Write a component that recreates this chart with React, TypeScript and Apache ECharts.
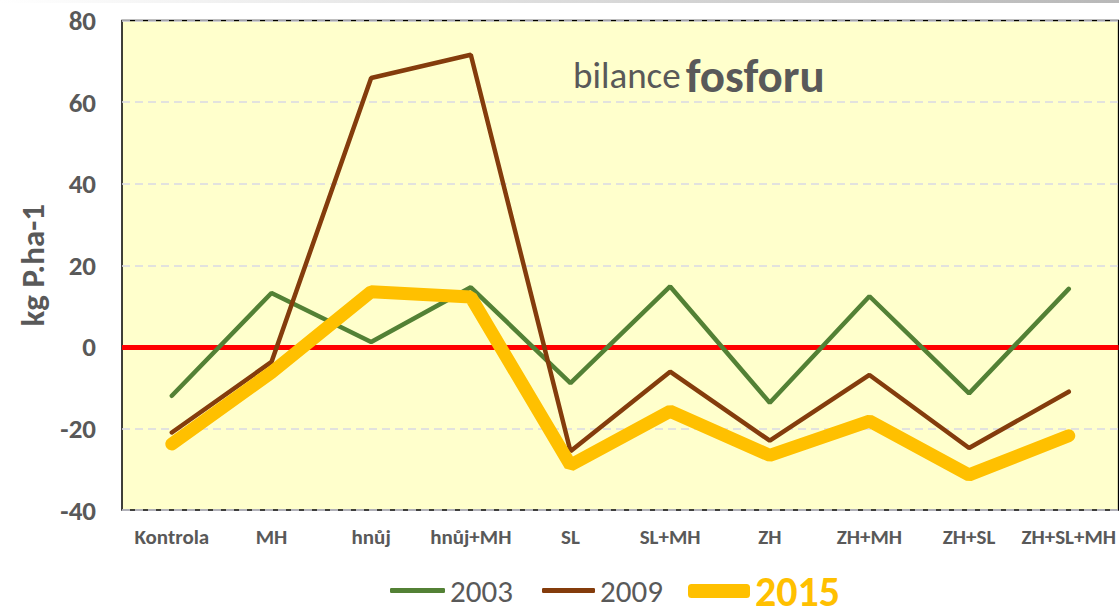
import React, { useEffect, useRef } from "react";
import * as echarts from "echarts";

const categories = ["Kontrola", "MH", "hnůj", "hnůj+MH", "SL", "SL+MH", "ZH", "ZH+MH", "ZH+SL", "ZH+SL+MH"];
const s2003 = [-12, 13.2, 1.2, 14.6, -8.9, 14.8, -13.7, 12.4, -11.4, 14.2];
const s2009 = [-21, -3.7, 65.9, 71.6, -25.6, -6.1, -23, -6.9, -24.8, -11];
const s2015 = [-23.8, -6.3, 13.5, 12.2, -29, -15.8, -26.6, -18.2, -31.4, -21.8];
const yTicks = { min: -40, max: 80, interval: 20 };

const FONT = "Carlito, Lato, 'Noto Sans', sans-serif";
const GRAY = "#595959";

export default function App() {
  const ref = useRef<HTMLDivElement>(null);
  useEffect(() => {
    if (!ref.current) return;
    const chart = echarts.init(ref.current, null, { renderer: "svg" });
    chart.setOption({
      animation: false,
      backgroundColor: "#ffffff",
      graphic: [
        {
          type: "rect",
          shape: { x: 0, y: 0, width: 1119, height: 3 },
          style: {
            fill: new echarts.graphic.LinearGradient(0, 0, 1, 0, [
              { offset: 0, color: "#ffffff" },
              { offset: 1, color: "#b8b8b8" },
            ]),
          },
          silent: true,
        },
      ],
      title: {
        text: "{a|bilance} {b|fosforu}",
        left: 568,
        top: 47,
        textStyle: {
          rich: {
            a: { fontFamily: FONT, fontSize: 37, color: GRAY, fontWeight: "normal" },
            b: { fontFamily: FONT, fontSize: 47, color: GRAY, fontWeight: "bold" },
          },
        },
      },
      grid: {
        left: 122,
        top: 20.5,
        width: 998,
        height: 489.5,
        show: true,
        backgroundColor: "#FFFFCC",
        borderColor: "#000000",
        borderWidth: 1.5,
        containLabel: false,
      },
      xAxis: {
        type: "category",
        data: categories,
        boundaryGap: true,
        axisLine: { show: false },
        axisTick: { show: false },
        axisLabel: {
          interval: 0,
          margin: 16,
          color: GRAY,
          fontFamily: FONT,
          fontWeight: "bold",
          fontSize: 21,
        },
        splitLine: { show: false },
      },
      yAxis: {
        type: "value",
        min: yTicks.min,
        max: yTicks.max,
        interval: yTicks.interval,
        name: "kg P.ha-1",
        nameLocation: "middle",
        nameGap: 70,
        nameTextStyle: { color: GRAY, fontFamily: FONT, fontWeight: "bold", fontSize: 33 },
        axisLine: { show: false },
        axisTick: { show: false },
        axisLabel: {
          margin: 26,
          color: GRAY,
          fontFamily: FONT,
          fontWeight: "bold",
          fontSize: 27,
        },
        splitLine: {
          show: true,
          lineStyle: { color: "#D9D9E3", width: 1.5, type: [8, 5] },
        },
      },
      legend: [
        {
          data: [{ name: "2003", icon: "roundRect" }],
          left: 390,
          top: 575,
          padding: 0,
          itemWidth: 55,
          itemHeight: 5,
          textStyle: { color: GRAY, fontFamily: FONT, fontSize: 31 },
          selectedMode: false,
        },
        {
          data: [{ name: "2009", icon: "roundRect" }],
          left: 542,
          top: 575,
          padding: 0,
          itemWidth: 53,
          itemHeight: 5,
          textStyle: { color: GRAY, fontFamily: FONT, fontSize: 31 },
          selectedMode: false,
        },
        {
          data: [{ name: "2015", icon: "roundRect" }],
          left: 688,
          top: 570,
          padding: 0,
          itemWidth: 62,
          itemHeight: 14,
          textStyle: { color: "#FFC000", fontFamily: FONT, fontSize: 42, fontWeight: "bold" },
          selectedMode: false,
        },
      ],
      series: [
        {
          name: "2003",
          type: "line",
          data: s2003,
          symbol: "none",
          z: 3,
          itemStyle: { color: "#538135" },
          lineStyle: { color: "#538135", width: 4.5, cap: "round" },
          markLine: {
            silent: true,
            z: 1,
            symbol: ["none", "none"],
            label: { show: false },
            lineStyle: { color: "#FF0000", width: 5, type: "solid" },
            data: [{ yAxis: 0 }],
          },
        },
        {
          name: "2009",
          type: "line",
          data: s2009,
          symbol: "none",
          z: 4,
          itemStyle: { color: "#843C0C" },
          lineStyle: { color: "#843C0C", width: 4.5, cap: "round" },
        },
        {
          name: "2015",
          type: "line",
          data: s2015,
          symbol: "none",
          z: 5,
          itemStyle: { color: "#FFC000" },
          lineStyle: { color: "#FFC000", width: 13, cap: "round" },
        },
      ],
    });
    return () => chart.dispose();
  }, []);
  return (
    <div
      ref={ref}
      style={{ position: "absolute", left: 0, top: 0, width: 1119, height: 607 }}
    />
  );
}
